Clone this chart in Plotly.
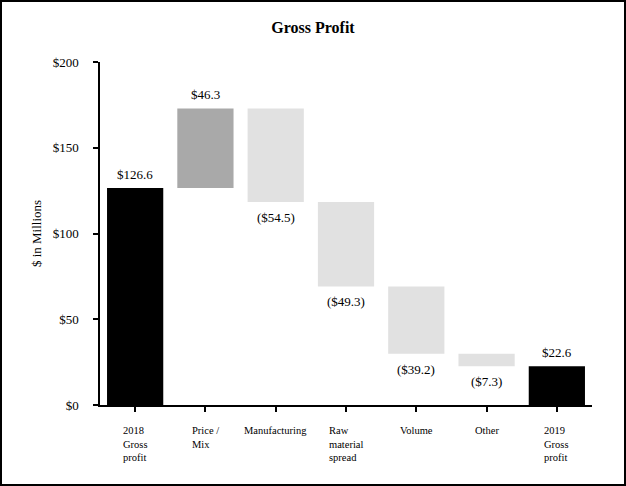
import plotly.graph_objects as go

# gross profit bridge, $ millions
categories = ["2018 Gross profit", "Price / Mix", "Manufacturing", "Raw material spread",
              "Volume", "Other", "2019 Gross profit"]
tick_labels = ["2018<br>Gross<br>profit", "Price /<br>Mix", "Manufacturing",
               "Raw<br>material<br>spread", "Volume", "Other", "2019<br>Gross<br>profit"]
values = [126.6, 46.3, -54.5, -49.3, -39.2, -7.3, 22.6]
measures = ["absolute", "relative", "relative", "relative", "relative", "relative", "total"]
y_ticks = [0, 50, 100, 150, 200]
y_tick_text = ["$0", "$50", "$100", "$150", "$200"]


def money(v):
    if v < 0:
        return "($%.1f)" % abs(v)
    return "$%.1f" % v


serif = "Liberation Serif, Times New Roman, serif"

fig = go.Figure()
fig.add_trace(go.Waterfall(
    x=categories,
    y=values,
    measure=measures,
    connector=dict(visible=False),
    increasing=dict(marker=dict(color="#a9a9a9")),
    decreasing=dict(marker=dict(color="#e1e1e1")),
    totals=dict(marker=dict(color="black")),
    hoverinfo="skip",
))

# value labels: above the bar end for gains/totals, below it for losses
running = 0
for cat, v, m in zip(categories, values, measures):
    if m == "absolute":
        running = v
    elif m == "relative":
        running += v
    end = running
    fig.add_annotation(
        x=cat, y=end, xref="x", yref="y",
        text=money(v), showarrow=False,
        xanchor="center", yanchor="middle",
        yshift=13.5 if v >= 0 else -15.5,
        font=dict(family=serif, size=13, color="black"),
    )

# category labels, left aligned lines centred under each tick
for cat, lab in zip(categories, tick_labels):
    fig.add_annotation(
        x=cat, y=0, xref="x", yref="paper",
        text=lab, showarrow=False,
        xanchor="center", yanchor="top", align="left",
        yshift=-18,
        font=dict(family=serif, size=10.5, color="black"),
    )

W, H = 626, 486
ml, mr, mt, mb = 100, 34, 62, 81
pw, ph = W - ml - mr, H - mt - mb

# frame around the whole picture
fig.add_shape(
    type="rect", xref="paper", yref="paper",
    x0=(1 - ml) / pw, x1=(W - 1 - ml) / pw,
    y0=-(mb - 1) / ph, y1=(ph + mt - 1) / ph,
    line=dict(color="black", width=2),
)

fig.update_layout(
    width=W, height=H,
    margin=dict(l=ml, r=mr, t=mt, b=mb),
    paper_bgcolor="white",
    plot_bgcolor="white",
    showlegend=False,
    bargap=0.2,
    font=dict(family=serif, size=13, color="black"),
    title=dict(
        text="<b>Gross Profit</b>",
        x=0.5, xref="container", xanchor="center",
        y=1 - 27 / H, yanchor="middle",
        font=dict(family=serif, size=16, color="black"),
    ),
)
fig.update_xaxes(
    type="category",
    showticklabels=False,
    ticks="outside", ticklen=5, tickcolor="black", tickwidth=1.5,
    showline=True, linecolor="black", linewidth=1.5,
    showgrid=False, zeroline=False,
)
fig.update_yaxes(
    range=[0, 200],
    tickvals=y_ticks,
    ticktext=y_tick_text,
    ticks="outside", ticklen=5, tickcolor="black", tickwidth=1.5,
    showline=True, linecolor="black", linewidth=1.5,
    showgrid=False, zeroline=False,
    ticklabelstandoff=12,
    tickfont=dict(family=serif, size=13, color="black"),
    title=dict(text="$ in Millions", standoff=8,
               font=dict(family=serif, size=13, color="black")),
)

fig.write_html("out.html", config={"displayModeBar": False},
               post_script="document.body.style.margin='0';")
